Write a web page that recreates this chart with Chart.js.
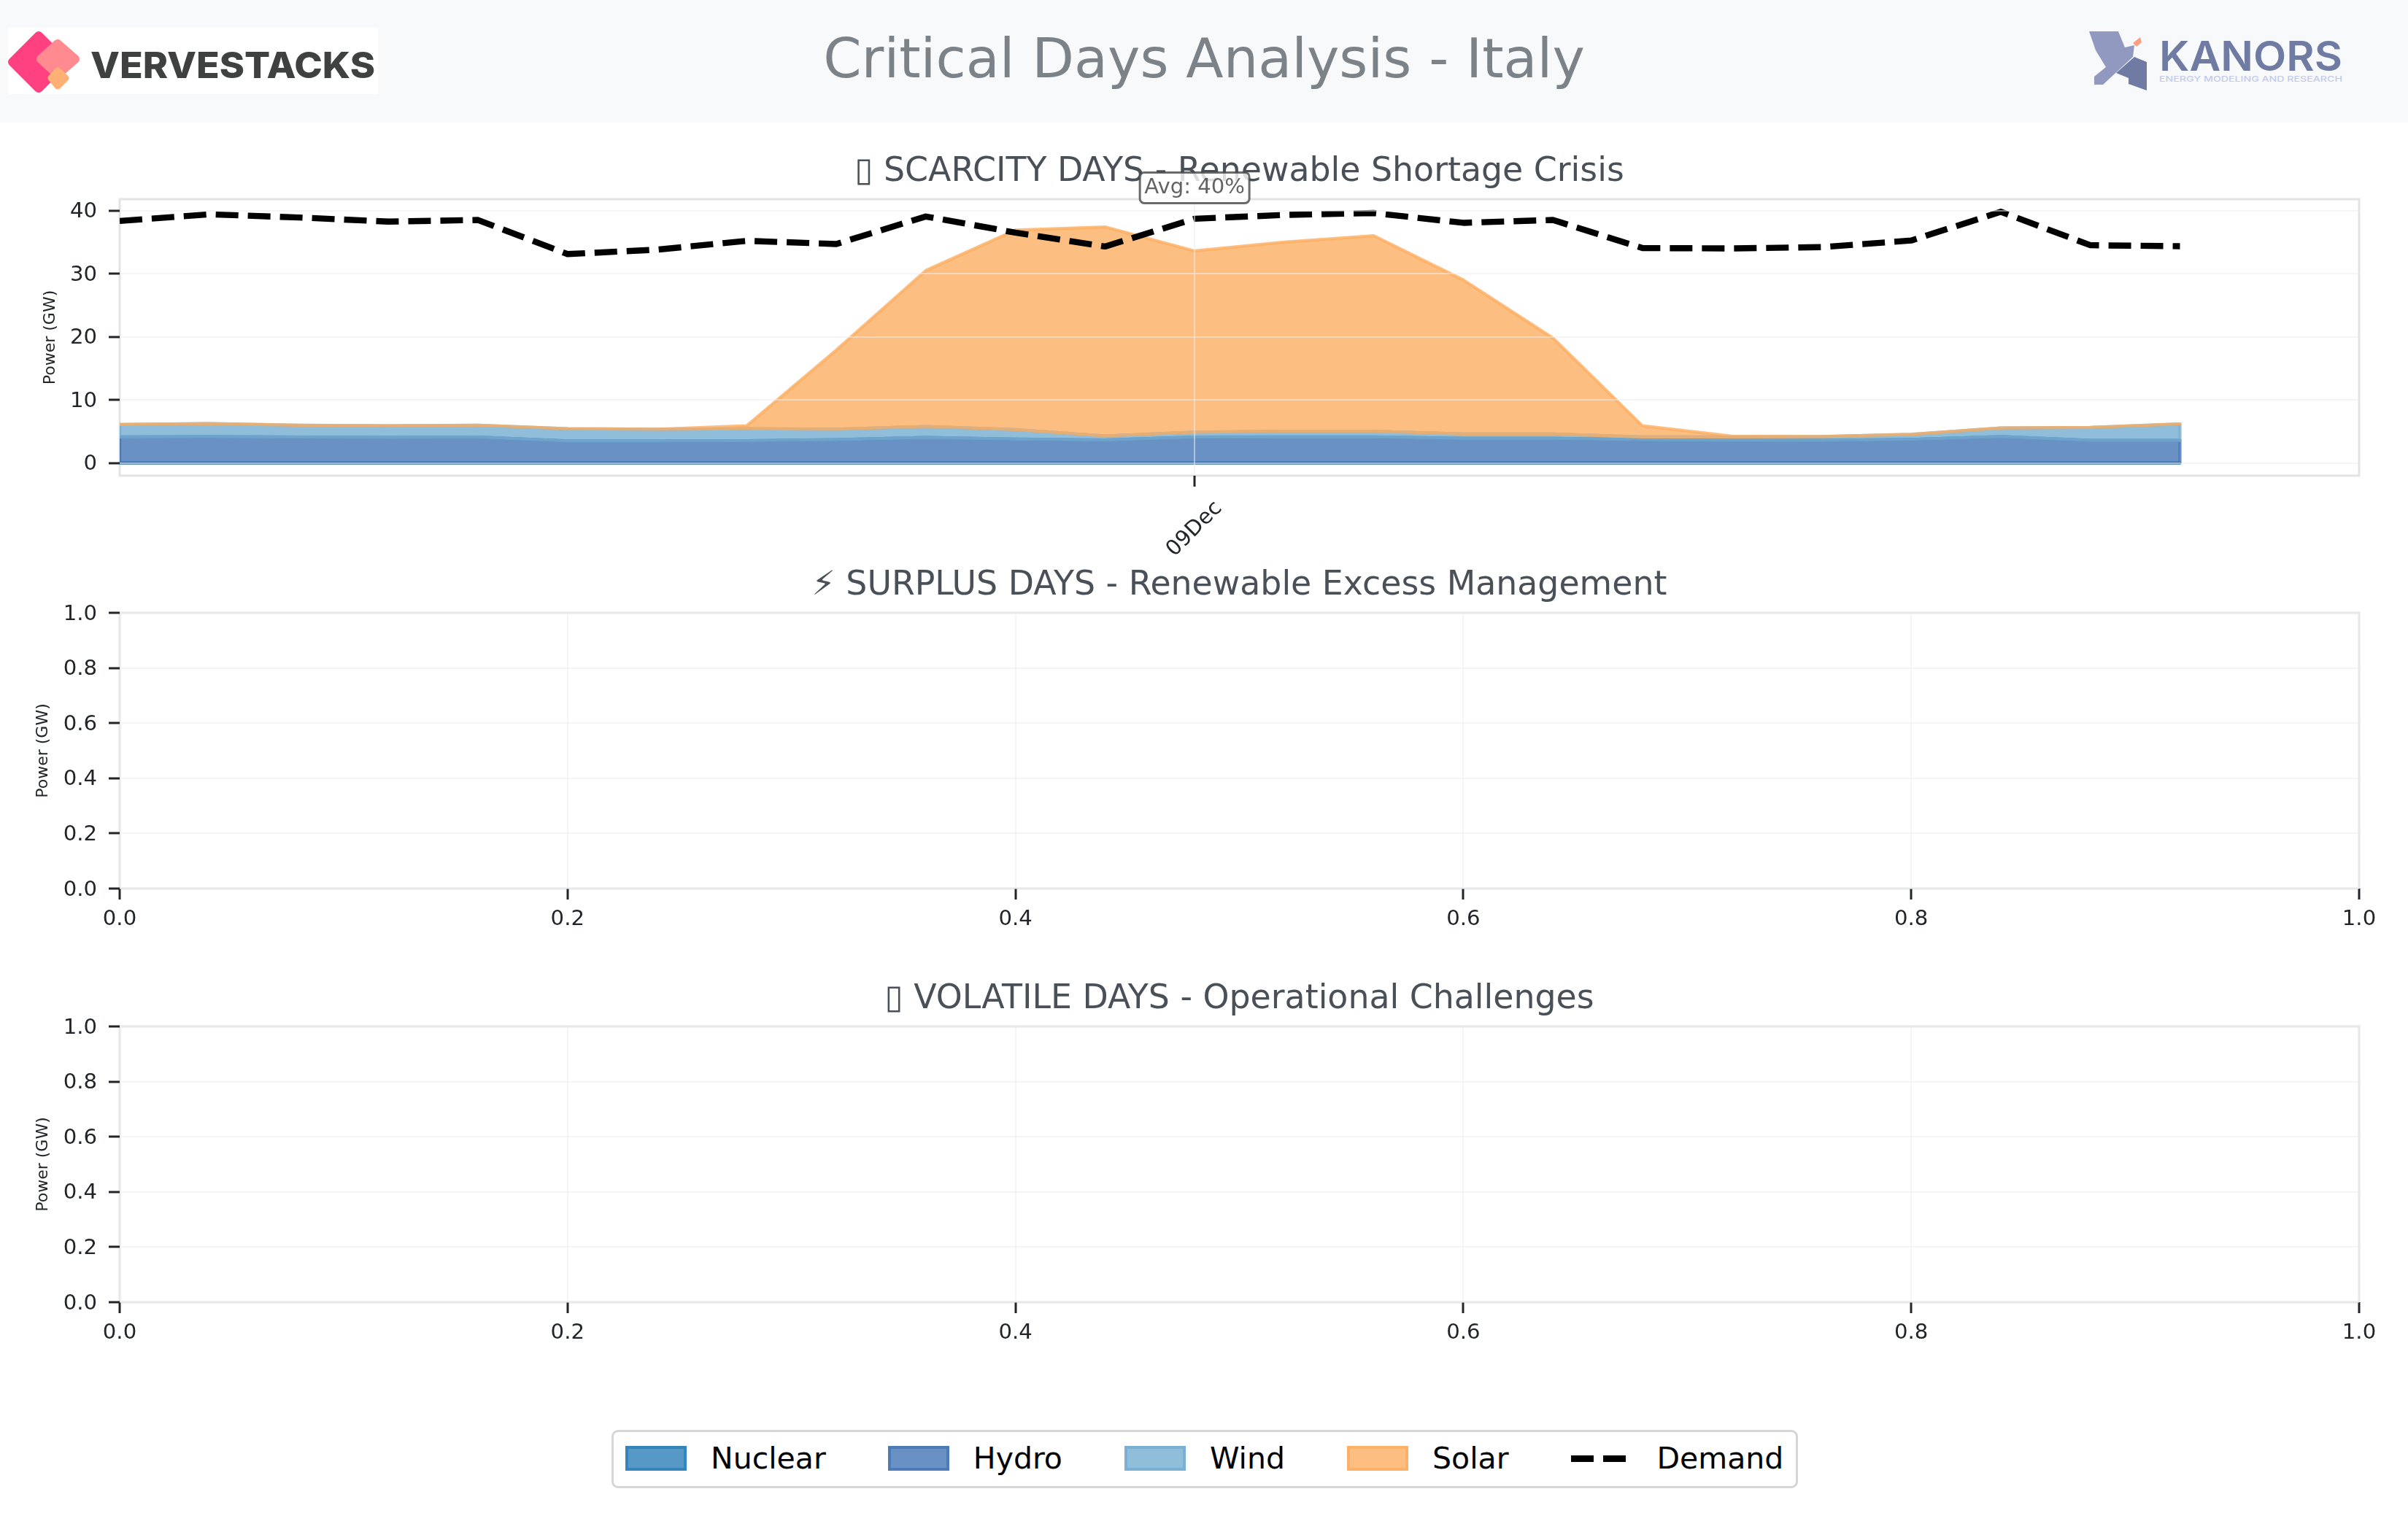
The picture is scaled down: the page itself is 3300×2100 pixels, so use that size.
<!DOCTYPE html>
<html>
<head>
<meta charset="utf-8">
<title>Critical Days Analysis - Italy</title>
<script src="https://cdn.jsdelivr.net/npm/chart.js@4"></script>
<style>
    html, body { margin: 0; background: #fff; font-family: "DejaVu Sans", sans-serif; }
    body { position: relative; width: 3300px; height: 2100px; overflow: hidden; }
    #header { position: absolute; left: 0; top: 0; width: 3300px; height: 168px; background: #f8f9fa; }
    #header svg { position: absolute; left: 0; top: 0; }
    #mainTitle { position: absolute; left: 0; width: 3300px; top: 42px; text-align: center; font-size: 75px; line-height: 76px; color: #7b8288; }
    canvas { position: absolute; left: 0; }
    #legend { position: absolute; left: 838px; top: 1960px; height: 72px; display: flex; align-items: center; gap: 85px; padding: 0 17px 2px 16px; border: 3px solid #d6d6d6; border-radius: 9px; background: #fff; font-size: 41px; color: #000; }
    .item { display: flex; align-items: center; gap: 33px; }
    .swatch { width: 76px; height: 26px; border-width: 4px; border-style: solid; }
    .dash { width: 76px; height: 9px; margin-right: 9px; background: repeating-linear-gradient(90deg, #000 0 31px, transparent 31px 44px); }
</style>
</head>
<body>
<div id="header">
    <svg width="3300" height="168" xmlns="http://www.w3.org/2000/svg">
        <rect x="11" y="38" width="507" height="91" fill="#ffffff"/>
        <polygon points="53,49 89,85 53,121 17,85" fill="#ff4081" stroke="#ff4081" stroke-width="12" stroke-linejoin="round"/>
        <polygon points="79,60 103,81 79,102 56,81" fill="#ff8a8f" stroke="#ff8a8f" stroke-width="12" stroke-linejoin="round"/>
        <polygon points="79,97 90,107 79,118 70,107" fill="#ffb074" stroke="#ffb074" stroke-width="9" stroke-linejoin="round"/>
        <text x="124" y="107" font-family="Inter" font-weight="800" font-size="50" fill="#3f4040" textLength="390" lengthAdjust="spacingAndGlyphs">VERVESTACKS</text>
        <polygon points="2863,43 2903,43 2912,65 2925,62 2923,78 2882,116 2870,116 2870,105 2886,92 2872,69" fill="#9199c0"/>
        <polygon points="2925,78 2942,85 2942,124 2917,115 2917,107 2900,100" fill="#6f7ba3"/>
        <polygon points="2933,51 2935,58 2928,64 2923,59" fill="#ff9e80"/>
        <text x="2959" y="97" font-family="Inter" font-weight="600" font-size="56" fill="#6f7ba3" textLength="251" lengthAdjust="spacingAndGlyphs">KANORS</text>
        <text x="2959" y="112" font-family="Inter" font-weight="500" font-size="11" fill="#c3cbea" textLength="251" lengthAdjust="spacingAndGlyphs">ENERGY MODELING AND RESEARCH</text>
    </svg>
    <div id="mainTitle">Critical Days Analysis - Italy</div>
</div>
<canvas id="scarcityChart"></canvas>
<canvas id="surplusChart"></canvas>
<canvas id="volatileChart"></canvas>
<div id="legend"></div>

<script>
const hours = [0, 1, 2, 3, 4, 5, 6, 7, 8, 9, 10, 11, 12, 13, 14, 15, 16, 17, 18, 19, 20, 21, 22, 23];
const nuclear = [0, 0, 0, 0, 0, 0, 0, 0, 0, 0, 0, 0, 0, 0, 0, 0, 0, 0, 0, 0, 0, 0, 0, 0];
const hydro = [4.14, 4.2, 4.1, 4.05, 4.1, 3.5, 3.5, 3.55, 3.7, 4.05, 3.8, 3.65, 4.1, 4.15, 4.15, 3.9, 3.9, 3.7, 3.6, 3.6, 3.75, 4.2, 3.6, 3.6];
const wind = [1.96, 2.05, 1.9, 1.85, 1.9, 1.95, 1.85, 1.9, 1.65, 1.75, 1.5, 0.65, 0.8, 0.9, 0.9, 0.7, 0.7, 0.45, 0.55, 0.6, 0.8, 1.35, 2.05, 2.6];
const solar = [0, 0, 0, 0, 0, 0, 0, 0.45, 12.55, 24.7, 31.6, 33.1, 28.7, 29.95, 30.95, 24.4, 15.2, 1.75, 0.1, 0, 0, 0, 0, 0];
const demand = [38.35, 39.4, 38.9, 38.25, 38.5, 33.1, 33.8, 35.2, 34.7, 39.05, 36.5, 34.3, 38.7, 39.3, 39.6, 38.05, 38.5, 34.05, 34.0, 34.2, 35.25, 39.8, 34.5, 34.35];

const powerTicks = [0, 10, 20, 30, 40];
const dayTicks = [12];
const dayTickLabels = ["09Dec"];
const unitTicks = [0, 0.2, 0.4, 0.6, 0.8, 1];

const avgLabel = "Avg: 40%";
const avgLabelHour = 12;
const avgLabelPower = 43.6;

const sourceNames = ["Nuclear", "Hydro", "Wind", "Solar"];
const sourceColors = ["rgba(44,127,184,0.8)", "rgba(69,117,180,0.8)", "rgba(116,173,209,0.8)", "rgba(253,174,97,0.8)"];
const sourceValues = [nuclear, hydro, wind, solar];

const TICK_COLOR = "#212529";
const GRID_COLOR = "rgba(236,236,236,0.55)";
const SPINE_COLOR = "#e3e3e3";
const TITLE_FONT = 45.8;
const TITLE_HEIGHT = 64;
const PLOT_LEFT = 164;
const PLOT_RIGHT = 3233;

// matplotlib strokes the whole polygon of each stack layer, Chart.js only the top
const layerOutline = {
    id: "layerOutline",
    beforeDatasetDraw(chart, args) {
        if (chart.data.datasets[args.index].label !== "Demand") return;
        const ctx = chart.ctx;
        const area = chart.chartArea;
        const zero = chart.scales.y.getPixelForValue(0);
        ctx.save();
        ctx.beginPath();
        ctx.rect(area.left, area.top, area.width, area.height);
        ctx.clip();
        sourceNames.forEach((name, i) => {
            const top = chart.getDatasetMeta(i).data;
            const bottom = i > 0 ? chart.getDatasetMeta(i - 1).data : top.map(p => ({ x: p.x, y: zero }));
            ctx.beginPath();
            top.forEach((p, k) => k === 0 ? ctx.moveTo(p.x, p.y) : ctx.lineTo(p.x, p.y));
            for (let k = bottom.length - 1; k >= 0; k--) ctx.lineTo(bottom[k].x, bottom[k].y);
            ctx.closePath();
            ctx.lineWidth = 4.2;
            ctx.lineJoin = "round";
            ctx.strokeStyle = sourceColors[i];
            ctx.stroke();
        });
        ctx.restore();
    }
};

const axesFrame = {
    id: "axesFrame",
    beforeDatasetsDraw(chart) {
        const a = chart.chartArea;
        chart.ctx.save();
        chart.ctx.strokeStyle = SPINE_COLOR;
        chart.ctx.lineWidth = 3;
        chart.ctx.strokeRect(a.left, a.top, a.width, a.height);
        chart.ctx.restore();
    }
};

const avgBadge = {
    id: "avgBadge",
    afterDraw(chart) {
        const cx = chart.scales.x.getPixelForValue(avgLabelHour);
        const cy = chart.scales.y.getPixelForValue(avgLabelPower);
        const ctx = chart.ctx;
        ctx.save();
        ctx.beginPath();
        ctx.roundRect(cx - 75, cy - 21, 150, 42, 6);
        ctx.fillStyle = "rgba(255,255,255,0.8)";
        ctx.fill();
        ctx.lineWidth = 3;
        ctx.strokeStyle = "rgba(70,70,70,0.8)";
        ctx.stroke();
        ctx.font = '29.17px "DejaVu Sans"';
        ctx.textAlign = "center";
        ctx.textBaseline = "middle";
        ctx.fillStyle = "rgba(60,60,60,0.8)";
        ctx.fillText(avgLabel, cx, cy);
        ctx.restore();
    }
};

function panelOptions(cfg) {
    const tickFont = { family: "DejaVu Sans", size: 29.17 };
    return {
        responsive: false,
        animation: false,
        devicePixelRatio: 1,
        layout: { padding: { left: 0, right: 3300 - PLOT_RIGHT, top: 0, bottom: 0 } },
        plugins: {
            legend: { display: false },
            tooltip: { enabled: false },
            title: {
                display: true,
                text: cfg.title,
                fullSize: false,
                color: "#495057",
                font: { family: "DejaVu Sans", size: TITLE_FONT, weight: "normal", lineHeight: 1.2 },
                padding: { top: 0, bottom: TITLE_HEIGHT - TITLE_FONT * 1.2 }
            }
        },
        scales: {
            x: {
                type: "linear",
                min: cfg.xMin,
                max: cfg.xMax,
                border: { display: false },
                afterBuildTicks: s => { s.ticks = cfg.xTicks.map(v => ({ value: v })); },
                afterFit: s => { s.height = cfg.bottom; },
                grid: { z: 1, color: GRID_COLOR, lineWidth: 2, tickColor: TICK_COLOR, tickWidth: 3, tickLength: 15 },
                ticks: {
                    autoSkip: false,
                    color: TICK_COLOR,
                    font: tickFont,
                    padding: cfg.xPadding,
                    maxRotation: cfg.xRotation,
                    minRotation: cfg.xRotation,
                    labelOffset: cfg.xOffset,
                    callback: cfg.xFormat
                }
            },
            y: {
                min: cfg.yMin,
                max: cfg.yMax,
                stacked: true,
                border: { display: false },
                afterBuildTicks: s => { s.ticks = cfg.yTicks.map(v => ({ value: v })); },
                afterFit: s => { s.width = PLOT_LEFT; },
                grid: { z: 1, color: GRID_COLOR, lineWidth: 2, tickColor: TICK_COLOR, tickWidth: 3, tickLength: 15 },
                ticks: {
                    autoSkip: false,
                    color: TICK_COLOR,
                    font: tickFont,
                    padding: 16,
                    labelOffset: 2,
                    callback: cfg.yFormat
                },
                title: {
                    display: true,
                    text: "Power (GW)",
                    color: "#212529",
                    font: { family: "DejaVu Sans", size: 22 },
                    padding: { top: cfg.yLabelPad, bottom: 0 }
                }
            }
        }
    };
}

function placeCanvas(id, plotTop, plotHeight, bottom) {
    const el = document.getElementById(id);
    el.width = 3300;
    el.height = TITLE_HEIGHT + plotHeight + bottom;
    el.style.top = (plotTop - TITLE_HEIGHT) + "px";
    return el;
}

const stackDatasets = sourceNames.map((name, i) => ({
    label: name,
    data: sourceValues[i].map((v, k) => ({ x: hours[k], y: v })),
    fill: i === 0 ? "origin" : "-1",
    backgroundColor: sourceColors[i],
    borderWidth: 0,
    pointRadius: 0,
    tension: 0,
    stack: "sources"
}));

new Chart(placeCanvas("scarcityChart", 273, 379, 150), {
    type: "line",
    data: {
        datasets: stackDatasets.concat([{
            label: "Demand",
            data: demand.map((v, k) => ({ x: hours[k], y: v })),
            fill: false,
            borderColor: "#000",
            borderWidth: 8.4,
            borderDash: [31, 13],
            borderJoinStyle: "round",
            pointRadius: 0,
            tension: 0,
            stack: "demand",
            order: -1
        }])
    },
    options: panelOptions({
        title: "\u25AF SCARCITY DAYS - Renewable Shortage Crisis",
        xMin: 0, xMax: 25, xTicks: dayTicks, xRotation: 45, xOffset: 33, xPadding: 13,
        xFormat: v => dayTickLabels[dayTicks.indexOf(v)],
        yMin: -2, yMax: 41.8, yTicks: powerTicks, yFormat: v => String(v),
        bottom: 150, yLabelPad: 56
    }),
    plugins: [axesFrame, layerOutline, avgBadge]
});

[
    { id: "surplusChart", top: 840, title: "\u26A1 SURPLUS DAYS - Renewable Excess Management" },
    { id: "volatileChart", top: 1407, title: "\u25AF VOLATILE DAYS - Operational Challenges" }
].forEach(panel => {
    new Chart(placeCanvas(panel.id, panel.top, 378, 90), {
        type: "line",
        data: { datasets: [] },
        options: panelOptions({
            title: panel.title,
            xMin: 0, xMax: 1, xTicks: unitTicks, xRotation: 0, xOffset: 0, xPadding: 10,
            xFormat: v => v.toFixed(1),
            yMin: 0, yMax: 1, yTicks: unitTicks, yFormat: v => v.toFixed(1),
            bottom: 90, yLabelPad: 46
        }),
        plugins: [axesFrame]
    });
});

// legend sits below all three panels, so it lives outside the canvases
const legendEl = document.getElementById("legend");
sourceNames.forEach((name, i) => {
    legendEl.innerHTML += `
        <div class="item">
            <span class="swatch" style="background:${sourceColors[i]};border-color:${sourceColors[i]}"></span>
            <span>${name}</span>
        </div>`;
});
legendEl.innerHTML += `
    <div class="item">
        <span class="dash"></span>
        <span>Demand</span>
    </div>`;
</script>
</body>
</html>
